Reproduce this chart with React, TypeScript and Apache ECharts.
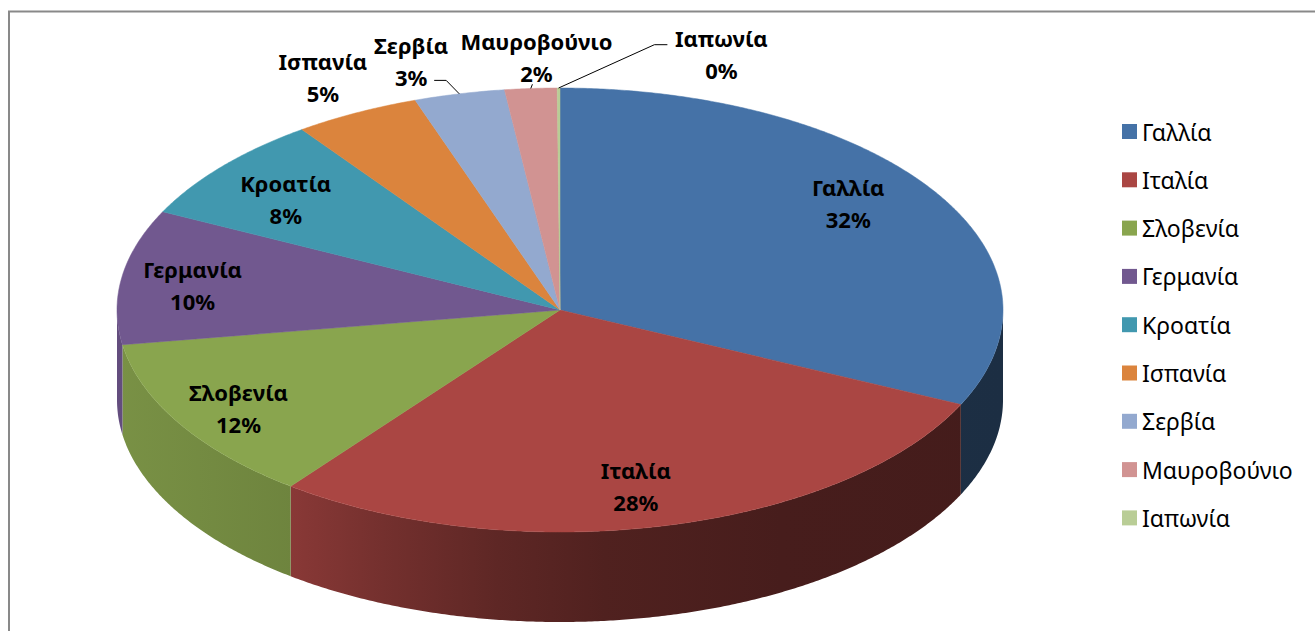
import React, { useEffect, useRef } from "react";
import * as echarts from "echarts";

// ---- data ----
const countries = ["Γαλλία", "Ιταλία", "Σλοβενία", "Γερμανία", "Κροατία", "Ισπανία", "Σερβία", "Μαυροβούνιο", "Ιαπωνία"];
const shares = [32.0, 28.4, 12.1, 9.8, 7.8, 4.6, 3.3, 1.9, 0.1];
const colors = ["#4572A7", "#AA4643", "#89A54E", "#71588F", "#4198AF", "#DB843D", "#93A9CF", "#D19392", "#B9CD96"];

// ---- geometry (layout, not data) ----
const CX = 560, CY = 310, RX = 443, RY = 222, DEPTH = 90;
const FONT = '"Noto Sans", "DejaVu Sans", sans-serif';

type Lay = { k: number; dx: number; dy: number; leader?: number[][] };
const labelLayout: Lay[] = [
  { k: 0.8, dx: -11, dy: -12 },
  { k: 0.8, dx: -8, dy: 3 },
  { k: 0.8, dx: -17, dy: 7 },
  { k: 0.8, dx: -17, dy: 2 },
  { k: 0.8, dx: -4, dy: 4 },
  { k: 1.15, dx: -3, dy: -6 },
  { k: 1.15, dx: -33, dy: 0, leader: [[23, 19], [35, 19]] },
  { k: 1.15, dx: 10, dy: 2, leader: [[-4, 27]] },
  { k: 1.15, dx: 163, dy: -1, leader: [[-54, -9], [-67, -9]] },
];

const total = shares.reduce((a, b) => a + b, 0);
const starts = shares.map((_, i) => shares.slice(0, i).reduce((a, b) => a + b, 0));

function pt(theta: number, k = 1, dy = 0): number[] {
  const r = (theta * Math.PI) / 180;
  return [CX + k * RX * Math.sin(r), CY - k * RY * Math.cos(r) + dy];
}
function arc(a0: number, a1: number, dy = 0): number[][] {
  const pts: number[][] = [];
  const n = Math.max(2, Math.ceil(Math.abs(a1 - a0) / 0.4));
  for (let j = 0; j <= n; j++) pts.push(pt(a0 + ((a1 - a0) * j) / n, 1, dy));
  return pts;
}
function shade(hex: string, f: number): string {
  const n = parseInt(hex.slice(1), 16);
  const r = Math.round(((n >> 16) & 255) * f);
  const g = Math.round(((n >> 8) & 255) * f);
  const b = Math.round((n & 255) * f);
  return `rgb(${r},${g},${b})`;
}
const wallStops = [
  [0, 0.88], [0.2, 0.8], [0.3, 0.68], [0.43, 0.55], [0.55, 0.47], [0.75, 0.42], [1, 0.4],
];
function wallFill(hex: string) {
  return new echarts.graphic.LinearGradient(
    CX - RX, 0, CX + RX, 0,
    wallStops.map(([o, f]) => ({ offset: o, color: shade(hex, f) })),
    true
  );
}

export default function App() {
  const ref = useRef<HTMLDivElement>(null);
  useEffect(() => {
    if (!ref.current) return;
    const chart = echarts.init(ref.current, null, { renderer: "svg" });
    const series = countries.map((name, i) => ({
      type: "custom",
      name,
      coordinateSystem: "none",
      silent: true,
      itemStyle: { color: colors[i] },
      data: [shares[i]],
      renderItem: (params: any, api: any) => {
        const idx = params.seriesIndex;
        const v = api.value(0);
        const a0 = (starts[idx] / total) * 360;
        const a1 = a0 + (v / total) * 360;
        const children: any[] = [];
        const w0 = Math.max(a0, 90), w1 = Math.min(a1, 270);
        if (w1 > w0) {
          children.push({
            type: "polygon",
            z2: 1,
            shape: { points: arc(w0, w1).concat(arc(w1, w0, DEPTH)) },
            style: { fill: wallFill(colors[idx]), stroke: null },
          });
        }
        children.push({
          type: "polygon",
          z2: 5,
          shape: { points: [[CX, CY], ...arc(a0, a1)] },
          style: { fill: colors[idx], stroke: colors[idx], lineWidth: 0.5 },
        });
        const lay = labelLayout[idx];
        const mid = (a0 + a1) / 2;
        const p = pt(mid, lay.k);
        const lx = p[0] + lay.dx, ly = p[1] + lay.dy;
        const pct = Math.round((v / total) * 100) + "%";
        children.push({
          type: "text",
          z2: 20,
          x: lx,
          y: ly,
          style: {
            text: countries[idx] + "\n" + pct,
            fill: "#000",
            fontSize: 22,
            fontWeight: "bold",
            fontFamily: FONT,
            align: "center",
            verticalAlign: "middle",
            lineHeight: 32,
          },
        });
        if (lay.leader) {
          const edge = pt(mid, 1);
          const pts = lay.leader.map(([dx, dy]) => [lx + dx, ly + dy]);
          pts.push(edge);
          children.push({
            type: "polyline",
            z2: 15,
            shape: { points: pts },
            style: { stroke: "#000", lineWidth: 1, fill: null },
          });
        }
        return { type: "group", children };
      },
    }));
    chart.setOption({
      animation: false,
      color: colors,
      legend: {
        orient: "vertical",
        left: 1117,
        top: 115,
        icon: "rect",
        itemWidth: 15,
        itemHeight: 15,
        itemGap: 25.3,
        data: countries,
        selectedMode: false,
        textStyle: { fontSize: 23, fontFamily: FONT, color: "#000", lineHeight: 22 },
      },
      graphic: [
        {
          type: "rect",
          shape: { x: 9, y: 11.5, width: 1400, height: 700 },
          style: { fill: "none", stroke: "#898989", lineWidth: 2 },
          z: -1,
        },
      ],
      series,
    });
    return () => chart.dispose();
  }, []);
  return (
    <div
      ref={ref}
      style={{ position: "absolute", left: 0, top: 0, width: 1315, height: 631, background: "#fff" }}
    />
  );
}
